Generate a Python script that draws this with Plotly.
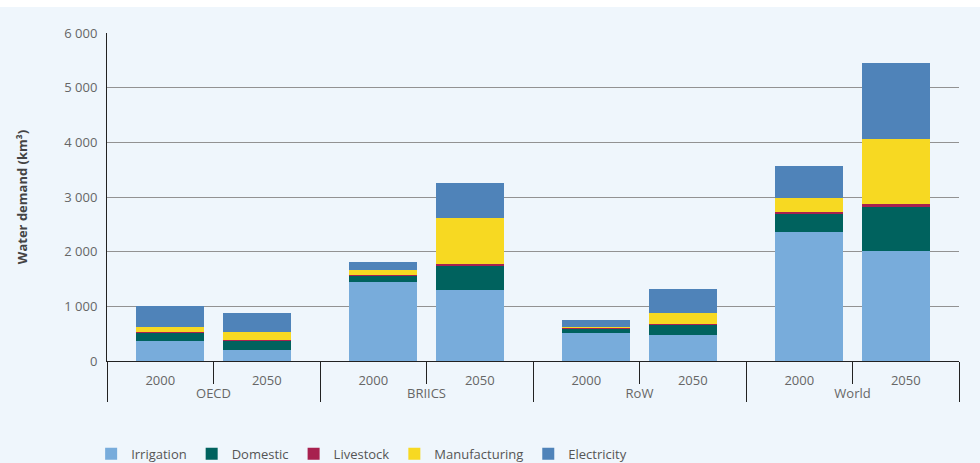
import plotly.graph_objects as go

regions = ["OECD", "OECD", "BRIICS", "BRIICS", "RoW", "RoW", "World", "World"]
years = ["2000", "2050", "2000", "2050", "2000", "2050", "2000", "2050"]

irrigation = [375, 200, 1440, 1300, 510, 475, 2365, 2010]
domestic = [145, 170, 120, 440, 85, 190, 330, 810]
livestock = [10, 10, 15, 30, 10, 10, 25, 50]
manufacturing = [100, 155, 90, 840, 20, 200, 265, 1200]
electricity = [370, 337, 150, 640, 125, 440, 585, 1390]

series = [
    ("Irrigation", irrigation, "#78acdb"),
    ("Domestic", domestic, "#00625e"),
    ("Livestock", livestock, "#a8214f"),
    ("Manufacturing", manufacturing, "#f7d922"),
    ("Electricity", electricity, "#4f83b9"),
]

ytickvals = [0, 1000, 2000, 3000, 4000, 5000, 6000]
yticktext = ["0", "1 000", "2 000", "3 000", "4 000", "5 000", "6 000"]

W, H = 980, 463
ML, MR, MT, MB = 107, 21, 33, 102
plot_h = H - MT - MB

bar_w = 0.64
shift = 0.09
offsets = [(-bar_w / 2 + shift) if y == "2000" else (-bar_w / 2 - shift) for y in years]

fig = go.Figure()
for name, vals, col in series:
    fig.add_trace(go.Bar(
        x=[regions, years], y=vals, name=name,
        marker=dict(color=col, line=dict(width=0)),
        width=bar_w, offset=offsets,
    ))

bg = "#eff6fc"
# thin white strip along the top edge of the page
strip_px = 7
fig.add_shape(type="rect", xref="paper", yref="paper",
              x0=-ML / (W - ML - MR), x1=1 + MR / (W - ML - MR),
              y0=1 + (MT - strip_px) / plot_h, y1=1 + MT / plot_h,
              fillcolor="white", line=dict(width=0), layer="below")

fig.update_layout(
    barmode="stack",
    width=W, height=H,
    margin=dict(l=ML, r=MR, t=MT, b=MB, autoexpand=False),
    paper_bgcolor=bg, plot_bgcolor=bg,
    font=dict(family="Open Sans, sans-serif", size=13, color="#555555"),
    showlegend=True,
    legend=dict(orientation="h", x=0.093, xanchor="left", xref="container",
                y=0.02, yref="container", yanchor="middle",
                traceorder="normal", font=dict(size=13, color="#555555"),
                bgcolor="rgba(0,0,0,0)"),
    bargap=0,
)
fig.update_yaxes(
    range=[0, 6000], tickvals=ytickvals, ticktext=yticktext,
    showgrid=True, gridcolor="#929292", gridwidth=1,
    showline=True, linecolor="#222222", linewidth=1,
    zeroline=False, ticks="", ticklabelstandoff=6,
    tickfont=dict(size=13, color="#666666"),
    title=dict(text="<b>Water demand (km³)</b>", font=dict(size=13, color="#444444"), standoff=33),
    automargin=False,
)
fig.update_xaxes(
    type="multicategory",
    showline=True, linecolor="#222222", linewidth=1,
    ticks="outside", ticklen=22, tickcolor="#222222", tickwidth=1,
    showdividers=True, dividercolor="#222222", dividerwidth=1,
    tickfont=dict(size=13, color="#666666"),
    ticklabelstandoff=7,
    showgrid=False, automargin=False,
)
fig.write_html("out.html")
